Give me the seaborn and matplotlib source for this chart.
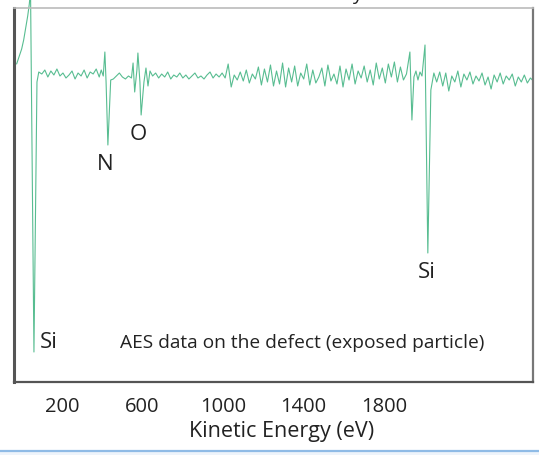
import matplotlib
matplotlib.use("Agg")
import matplotlib.pyplot as plt
import seaborn as sns
import pandas as pd
from matplotlib.lines import Line2D
from matplotlib.patches import Rectangle

# AES survey spectrum of the exposed particle (derivative mode, arbitrary units)
energy_ev = [
    -25, -15, 0, 10, 20, 30, 38, 44, 61, 76, 85,
    100, 115, 130, 145, 160, 175, 190, 205, 220, 235,
    250, 265, 280, 295, 310, 325, 340, 355, 370, 385,
    395, 405, 413, 419, 428, 442,
    455, 470, 485, 500, 515, 530, 545,
    553, 561, 572, 577, 587, 593, 607, 617, 627, 637,
    650, 665, 680, 695, 710, 725, 740, 755, 770, 785, 800, 815,
    830, 845, 860, 875, 890, 905, 920, 935, 950, 965, 980, 995, 1010,
    1025, 1040, 1055, 1070, 1085, 1100, 1115, 1130, 1145, 1160,
    1175, 1190, 1205, 1220, 1235, 1250, 1265, 1280, 1295, 1310,
    1325, 1340, 1355, 1370, 1385, 1400, 1415, 1430, 1445, 1460,
    1475, 1490, 1505, 1520, 1535, 1550, 1565, 1580, 1595, 1610,
    1625, 1640, 1655, 1670, 1685, 1700, 1715, 1730, 1745, 1760,
    1775, 1790, 1805, 1820, 1835, 1850, 1865, 1880, 1895, 1910,
    1927, 1937, 1947, 1957, 1967, 1977, 1987, 2002, 2016, 2031, 2046,
    2060, 2075, 2090, 2105, 2120, 2135, 2150, 2165, 2180, 2195, 2210,
    2225, 2240, 2255, 2270, 2285, 2300, 2315, 2330, 2345, 2360, 2375,
    2390, 2405, 2420, 2435, 2450, 2465, 2480, 2495, 2510, 2525, 2535,
]
intensity = [
    318, 324, 333, 342, 354, 366, 378, 392, 30, 300, 310,
    308, 312, 305, 311, 307, 313, 306, 309, 304, 307,
    311, 303, 309, 306, 312, 304, 310, 308, 313, 305,
    312, 306, 330, 300, 237, 302,
    303, 306, 309, 305, 303, 306, 304,
    319, 290, 312, 329, 300, 267, 300, 314, 296, 311,
    306, 309, 304, 308, 305, 310, 303, 307, 305, 309, 304, 307,
    303, 306, 309, 304, 306, 303, 307, 310, 304, 308, 305, 309, 304,
    318, 295, 307, 302, 310, 301, 312, 299, 308, 303,
    315, 297, 313, 300, 317, 296, 311, 298, 319, 295,
    314, 300, 316, 296, 309, 303, 318, 297, 312, 299,
    305, 314, 296, 317, 301, 308, 298, 316, 295, 313,
    302, 318, 298, 311, 304, 316, 300, 312, 297, 319,
    303, 314, 299, 318, 305, 320, 300, 315, 302, 308,
    330, 262, 305, 311, 302, 310, 306, 337, 129, 292, 309,
    300, 310, 296, 309, 291, 306, 300, 311, 295, 308, 302,
    310, 298, 306, 301, 309, 297, 305, 293, 307, 300, 309,
    298, 306, 302, 308, 296, 305, 300, 307, 299, 304, 302,
]

# element labels for the Auger transitions
peak_labels = ["Si", "N", "O", "Si"]
peak_label_ev = [91, 413, 577, 2011]
peak_label_y = [39, 217, 248, 110]

tick_energies = [200, 600, 1000, 1400, 1800]
tick_labels = ["200", "600", "1000", "1400", "1800"]
minor_tick_ev = [185, 448, 702, 965, 1223, 1476, 1729, 1992, 2245, 2508]
y_tick_values = [75, 150, 225, 300]

sns.set_theme(style="white")
plt.rcParams["font.family"] = ["Open Sans", "DejaVu Sans"]

fig = plt.figure(figsize=(5.39, 4.55), dpi=100)
ax = fig.add_axes([14 / 539, 73 / 455, 519 / 539, 374 / 455])

df = pd.DataFrame({"Kinetic Energy (eV)": energy_ev, "Intensity": intensity})
sns.lineplot(data=df, x="Kinetic Energy (eV)", y="Intensity", ax=ax,
             color="#58bd91", linewidth=0.8, estimator=None, sort=False)
ax.lines[0].set_clip_on(False)

ax.set_xlim(-38, 2538)
ax.set_ylim(0, 374)

ax.set_xticks(tick_energies)
ax.set_xticklabels(tick_labels, fontsize=14.5, color="#222222")
ax.set_xticks(minor_tick_ev, minor=True)
ax.tick_params(axis="x", which="major", length=0, pad=11)
ax.tick_params(axis="x", which="minor", direction="in", length=5, width=1, color="#666666")
ax.set_yticks(y_tick_values)
ax.set_yticklabels([])
ax.tick_params(axis="y", which="major", direction="in", length=5, width=1, color="#666666")
ax.set_ylabel("")
ax.set_xlabel("Kinetic Energy (eV)", fontsize=15.5, color="#222222")
ax.xaxis.set_label_coords(0.516, -0.105)

ax.spines["left"].set_color("#555555")
ax.spines["left"].set_linewidth(2.2)
ax.spines["bottom"].set_color("#555555")
ax.spines["bottom"].set_linewidth(1.6)
ax.spines["right"].set_color("#777777")
ax.spines["right"].set_linewidth(1.6)
ax.spines["top"].set_color("#bbbbbb")
ax.spines["top"].set_linewidth(1.2)

for lab, ex, ey in zip(peak_labels, peak_label_ev, peak_label_y):
    ha = "left" if lab == "Si" and ex < 200 else "center"
    ax.text(ex, ey, lab, fontsize=16, color="#222222", ha=ha, va="center")

ax.text(488, 39, "AES data on the defect (exposed particle)", fontsize=13.8,
        color="#222222", ha="left", va="center")

# remnant of the heading above the plot
fig.text(352 / 539, 1.0, "y", fontsize=14, color="#222222", ha="left", va="baseline")

# blue rule along the bottom of the panel
fig.patches.append(Rectangle((0, 0), 1, 5 / 455, transform=fig.transFigure,
                             facecolor="#eef4fb", edgecolor="none"))
fig.lines.append(Line2D([0, 1], [4.5 / 455, 4.5 / 455], transform=fig.transFigure,
                        color="#8fbbe6", linewidth=1.6))

fig.savefig("out.png", dpi=100)
